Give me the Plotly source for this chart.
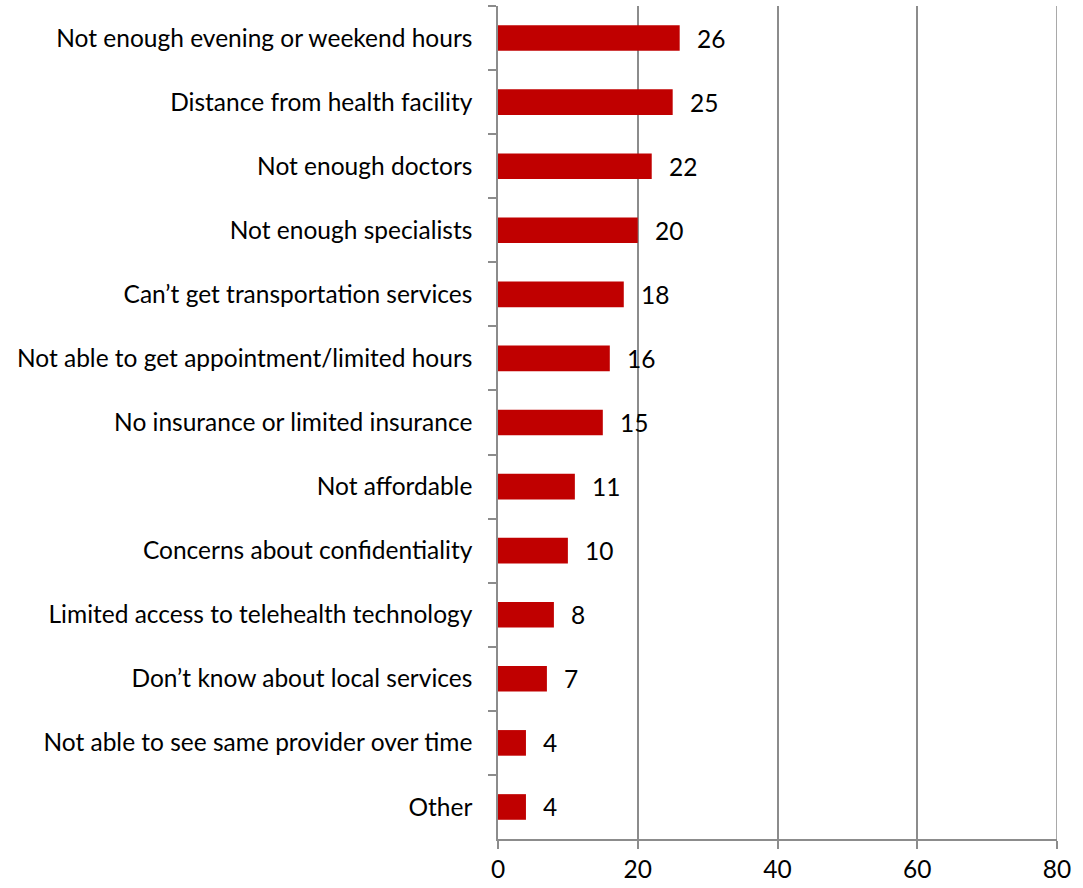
import plotly.graph_objects as go

categories = [
    "Not enough evening or weekend hours",
    "Distance from health facility",
    "Not enough doctors",
    "Not enough specialists",
    "Can\u2019t get transportation services",
    "Not able to get appointment/limited hours",
    "No insurance or limited insurance",
    "Not affordable",
    "Concerns about confidentiality",
    "Limited access to telehealth technology",
    "Don\u2019t know about local services",
    "Not able to see same provider over time",
    "Other",
]
values = [26, 25, 22, 20, 18, 16, 15, 11, 10, 8, 7, 4, 4]
x_ticks = [0, 20, 40, 60, 80]

FONT = "Lato, 'Open Sans', sans-serif"
FONT_SIZE = 24.5
BAR_RED = "#C00000"
AXIS_GREY = "#8C8C8C"

fig = go.Figure()
fig.add_trace(go.Bar(
    x=values,
    y=categories,
    orientation="h",
    marker=dict(color=BAR_RED, line=dict(width=0)),
    width=0.4,
    hoverinfo="x+y",
))

# value labels to the right of each bar
for cat, val in zip(categories, values):
    fig.add_annotation(
        x=val, y=cat, text=str(val), showarrow=False,
        xanchor="left", xshift=15,
        font=dict(family=FONT, size=FONT_SIZE, color="#000000"),
    )

# gridline at the right end of the value axis (plotly skips the edge one)
fig.add_shape(
    type="line", xref="x", yref="paper",
    x0=x_ticks[-1], x1=x_ticks[-1], y0=0, y1=1,
    line=dict(color=AXIS_GREY, width=1.5), layer="below",
)

fig.update_layout(
    width=1083, height=888,
    margin=dict(l=498, r=26, t=6, b=49),
    paper_bgcolor="white",
    plot_bgcolor="white",
    showlegend=False,
    font=dict(family=FONT, size=FONT_SIZE, color="#000000"),
)

fig.update_xaxes(
    range=[0, 80],
    tickvals=x_ticks,
    ticktext=[str(v) for v in x_ticks],
    showgrid=True, gridcolor=AXIS_GREY, gridwidth=1.5,
    showline=True, linecolor=AXIS_GREY, linewidth=1.5,
    ticks="outside", ticklen=8, tickcolor=AXIS_GREY, tickwidth=1.5,
    ticklabelstandoff=0,
    zeroline=False,
    tickfont=dict(family=FONT, size=FONT_SIZE, color="#000000"),
    fixedrange=True,
)

fig.update_yaxes(
    categoryorder="array",
    categoryarray=categories,
    autorange="reversed",
    showgrid=False,
    showline=True, linecolor=AXIS_GREY, linewidth=1.5,
    ticks="outside", ticklen=8, tickcolor=AXIS_GREY, tickwidth=1.5,
    tickson="boundaries",
    ticklabelstandoff=19,
    tickfont=dict(family=FONT, size=FONT_SIZE, color="#000000"),
    fixedrange=True,
)

fig.write_html("out.html")
